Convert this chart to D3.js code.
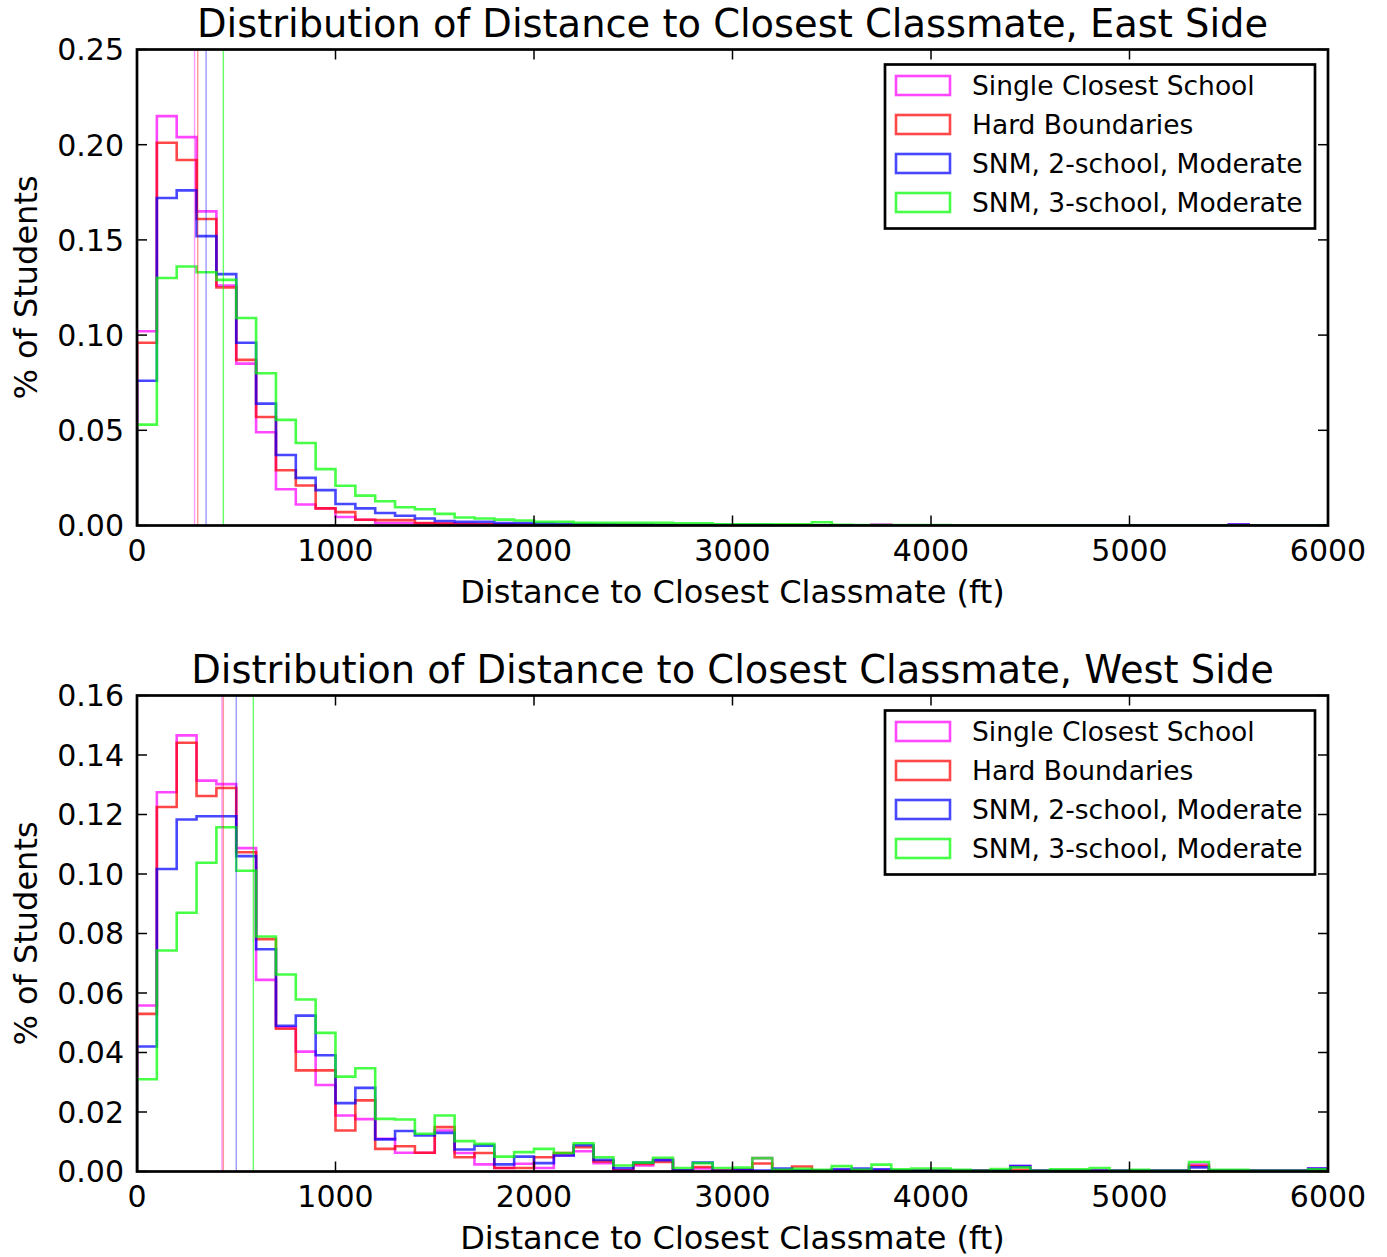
<!DOCTYPE html>
<html>
<head>
<meta charset="utf-8">
<script src="https://cdn.jsdelivr.net/npm/d3@7"></script>
<style>
  body { margin: 0; background: #fff; }
  svg { display: block; font-family: "DejaVu Sans", sans-serif; }
</style>
</head>
<body>
<svg id="chart"></svg>
<script>
// histogram bins are 100 ft wide, from 0 to 6000 ft
const binWidth = 100
const seriesNames = ["Single Closest School", "Hard Boundaries", "SNM, 2-school, Moderate", "SNM, 3-school, Moderate"]
const seriesColors = ["#ff00ff", "#ff0000", "#0000ff", "#00ff00"]

// East side, share of students per bin
const eastSingle = [0.102, 0.215, 0.204, 0.165, 0.126, 0.085, 0.049, 0.019, 0.011, 0.009,
  0.0045, 0.003, 0.0013, 0.0013, 0.0012, 0.0010, 0.0008, 0.0006, 0.0005, 0.0004,
  0.0003, 0.0002, 0.0002, 0.0002, 0.0002, 0.0002, 0.0001, 0.0001, 0.0001, 0.0001,
  0.0001, 0.0001, 0.0001, 0.0001, 0.0001, 0.0001, 0.0001, 0.0005, 0.0001, 0,
  0, 0, 0, 0, 0, 0, 0, 0, 0, 0,
  0, 0, 0, 0, 0, 0.0005, 0, 0, 0, 0]
const eastHard = [0.096, 0.201, 0.192, 0.161, 0.125, 0.087, 0.057, 0.029, 0.021, 0.009,
  0.007, 0.003, 0.0028, 0.0028, 0.0013, 0.0010, 0.0008, 0.0006, 0.0005, 0.0004,
  0.0003, 0.0002, 0.0002, 0.0002, 0.0002, 0.0001, 0.0001, 0.0001, 0.0001, 0.0001,
  0.0001, 0.0001, 0.0001, 0.0001, 0.0001, 0, 0, 0, 0, 0,
  0, 0, 0, 0, 0, 0, 0, 0, 0, 0,
  0, 0, 0, 0, 0, 0, 0, 0, 0, 0]
const eastSnm2 = [0.076, 0.172, 0.176, 0.152, 0.132, 0.096, 0.064, 0.037, 0.025, 0.0186,
  0.0113, 0.009, 0.0066, 0.0051, 0.0037, 0.0024, 0.0019, 0.0019, 0.0013, 0.0013,
  0.0010, 0.0008, 0.0006, 0.0005, 0.0004, 0.0004, 0.0003, 0.0003, 0.0002, 0.0002,
  0.0002, 0.0002, 0.0001, 0.0001, 0.0001, 0.0001, 0.0001, 0.0001, 0, 0,
  0, 0, 0, 0, 0, 0, 0, 0, 0, 0,
  0, 0, 0, 0, 0, 0.0005, 0, 0, 0, 0]
const eastSnm3 = [0.053, 0.130, 0.136, 0.133, 0.129, 0.109, 0.080, 0.0555, 0.0433, 0.0296,
  0.0209, 0.0157, 0.0127, 0.0096, 0.0085, 0.0061, 0.0042, 0.0037, 0.0031, 0.0026,
  0.0019, 0.0019, 0.0014, 0.0014, 0.0014, 0.0014, 0.0014, 0.0012, 0.0012, 0.0006,
  0.0006, 0.0006, 0.0006, 0.0006, 0.0017, 0.0004, 0.0003, 0.0003, 0.0002, 0.0002,
  0.0002, 0.0001, 0.0001, 0.0001, 0.0001, 0.0001, 0, 0, 0, 0,
  0, 0, 0, 0, 0, 0, 0, 0, 0, 0]

// West side
const westSingle = [0.0558, 0.1275, 0.1466, 0.1314, 0.1302, 0.1087, 0.0644, 0.0485, 0.0403, 0.0291,
  0.0188, 0.0176, 0.011, 0.0063, 0.0063, 0.0138, 0.0062, 0.0024, 0.0012, 0.0026,
  0.0012, 0.0054, 0.0068, 0.0028, 0.0004, 0.002, 0.004, 0.0004, 0.001, 0.0004,
  0.0006, 0.0045, 0.0004, 0.0004, 0.0003, 0.0003, 0.0003, 0.0003, 0.0003, 0.0003,
  0.0003, 0.0003, 0.0003, 0.0003, 0.0018, 0.0003, 0.0003, 0.0003, 0.0003, 0.0003,
  0.0003, 0.0003, 0.0003, 0.0023, 0.0003, 0.0003, 0.0003, 0.0003, 0.0003, 0.001]
const westHard = [0.053, 0.1225, 0.1441, 0.1262, 0.1289, 0.1073, 0.0781, 0.048, 0.034, 0.034,
  0.0138, 0.0239, 0.0076, 0.0085, 0.0063, 0.0149, 0.0048, 0.0062, 0.0012, 0.0012,
  0.0048, 0.0062, 0.0082, 0.0034, 0.0004, 0.0025, 0.0032, 0.0004, 0.0015, 0.0003,
  0.0005, 0.0027, 0.0003, 0.0017, 0.0003, 0.0003, 0.0003, 0.0003, 0.0003, 0.0003,
  0.0003, 0.0003, 0.0003, 0.0003, 0.0006, 0.0002, 0.0002, 0.0002, 0.0002, 0.0002,
  0.0002, 0.0002, 0.0002, 0.0018, 0.0002, 0.0002, 0.0002, 0.0002, 0.0002, 0.0002]
const westSnm2 = [0.042, 0.1017, 0.1183, 0.1194, 0.1194, 0.106, 0.0747, 0.049, 0.0524, 0.0391,
  0.023, 0.0281, 0.0108, 0.0136, 0.0121, 0.013, 0.0074, 0.0087, 0.0024, 0.005,
  0.0028, 0.0054, 0.0088, 0.0039, 0.0011, 0.003, 0.0038, 0.0004, 0.003, 0.0002,
  0.0006, 0.0003, 0.001, 0.0003, 0.0003, 0.0007, 0.001, 0.0007, 0.0003, 0.0003,
  0.0003, 0.0003, 0.0003, 0.0003, 0.0018, 0.0003, 0.0003, 0.0003, 0.0003, 0.0003,
  0.0003, 0.0003, 0.0003, 0.0014, 0.0003, 0.0003, 0.0003, 0.0003, 0.0003, 0.001]
const westSnm3 = [0.031, 0.0743, 0.087, 0.1038, 0.1157, 0.1011, 0.079, 0.0662, 0.0578, 0.0466,
  0.0319, 0.0347, 0.0177, 0.0175, 0.0127, 0.0188, 0.0102, 0.0093, 0.005, 0.0065,
  0.0076, 0.0062, 0.0095, 0.0048, 0.002, 0.003, 0.0046, 0.0012, 0.0028, 0.0012,
  0.0013, 0.0045, 0.0006, 0.0009, 0.0006, 0.0018, 0.0006, 0.0023, 0.0007, 0.001,
  0.001, 0.0006, 0.0002, 0.0008, 0.0014, 0.0002, 0.0007, 0.0007, 0.0012, 0.0002,
  0.0006, 0.0002, 0.0002, 0.0032, 0.0006, 0.0006, 0.0002, 0.0002, 0.0002, 0.0007]

// mean distance per series (vertical markers)
const eastMeans = [290, 306, 348, 435]
const westMeans = [428, 435, 500, 586]

const xTicks = [0, 1000, 2000, 3000, 4000, 5000, 6000]
const eastYTicks = [0, 0.05, 0.10, 0.15, 0.20, 0.25]
const westYTicks = [0, 0.02, 0.04, 0.06, 0.08, 0.10, 0.12, 0.14, 0.16]

const width = 1387, height = 1257
const svg = d3.select("#chart").attr("width", width).attr("height", height)

const left = 137, right = 1328, plotH = 476

function drawPanel(top, title, series, means, yMax, yTicks, id) {
  const x = d3.scaleLinear().domain([0, 6000]).range([left, right])
  const y = d3.scaleLinear().domain([0, yMax]).range([top + plotH, top])
  const g = svg.append("g")

  g.append("clipPath").attr("id", id)
    .append("rect").attr("x", left).attr("y", top).attr("width", right - left).attr("height", plotH)

  const plot = g.append("g").attr("clip-path", "url(#" + id + ")")

  // step outline like a matplotlib 'step' histogram
  function stepPath(vals) {
    const p = d3.path()
    p.moveTo(x(0), y(0))
    vals.forEach(function (v, i) {
      p.lineTo(x(i * binWidth), y(v))
      p.lineTo(x((i + 1) * binWidth), y(v))
    })
    p.lineTo(x(vals.length * binWidth), y(0))
    return p.toString()
  }

  series.forEach(function (vals, i) {
    plot.append("path")
      .attr("d", stepPath(vals))
      .attr("fill", "none")
      .attr("stroke", seriesColors[i])
      .attr("stroke-opacity", 0.72)
      .attr("stroke-width", 2.6)
      .attr("stroke-linejoin", "miter")
  })

  plot.selectAll("line.mean")
    .data(means)
    .enter().append("line")
      .attr("x1", d => x(d)).attr("x2", d => x(d))
      .attr("y1", top).attr("y2", top + plotH)
      .attr("stroke", (d, i) => seriesColors[i])
      .attr("stroke-opacity", (d, i) => i == 3 ? 0.6 : 0.4)
      .attr("stroke-width", 1.4)

  // ticks, inward on all four sides
  const tl = 10
  xTicks.forEach(function (t) {
    g.append("line").attr("x1", x(t)).attr("x2", x(t)).attr("y1", top + plotH).attr("y2", top + plotH - tl)
      .attr("stroke", "#000").attr("stroke-width", 1.5)
    g.append("line").attr("x1", x(t)).attr("x2", x(t)).attr("y1", top).attr("y2", top + tl)
      .attr("stroke", "#000").attr("stroke-width", 1.5)
    g.append("text").attr("x", x(t)).attr("y", top + plotH + 35)
      .attr("text-anchor", "middle").style("font-size", "30px").text(t)
  })
  yTicks.forEach(function (t) {
    g.append("line").attr("x1", left).attr("x2", left + tl).attr("y1", y(t)).attr("y2", y(t))
      .attr("stroke", "#000").attr("stroke-width", 1.5)
    g.append("line").attr("x1", right).attr("x2", right - tl).attr("y1", y(t)).attr("y2", y(t))
      .attr("stroke", "#000").attr("stroke-width", 1.5)
    g.append("text").attr("x", 124).attr("y", y(t) + 10.8)
      .attr("text-anchor", "end").style("font-size", "30px").text(d3.format(".2f")(t))
  })

  g.append("rect").attr("x", left).attr("y", top).attr("width", right - left).attr("height", plotH)
    .attr("fill", "none").attr("stroke", "#000").attr("stroke-width", 2.7)

  g.append("text").attr("x", (left + right) / 2).attr("y", top - 13)
    .attr("text-anchor", "middle").style("font-size", "38.4px").text(title)

  g.append("text").attr("x", (left + right) / 2).attr("y", top + plotH + 77)
    .attr("text-anchor", "middle").style("font-size", "32px").text("Distance to Closest Classmate (ft)")

  g.append("text")
    .attr("transform", "translate(37," + (top + plotH / 2) + ") rotate(-90)")
    .attr("text-anchor", "middle").style("font-size", "32px").text("% of Students")

  // legend
  const lg = g.append("g")
  lg.append("rect").attr("x", 885).attr("y", top + 15).attr("width", 430).attr("height", 164)
    .attr("fill", "#fff").attr("stroke", "#000").attr("stroke-width", 2.7)
  seriesNames.forEach(function (name, i) {
    const cy = top + 36 + i * 39
    lg.append("rect").attr("x", 896).attr("y", cy - 9.5).attr("width", 54).attr("height", 19)
      .attr("fill", "#fff").attr("stroke", seriesColors[i]).attr("stroke-opacity", 0.72).attr("stroke-width", 2.6)
    lg.append("text").attr("x", 972).attr("y", cy + 9.5)
      .style("font-size", "26.5px").text(name)
  })
}

drawPanel(49.5, "Distribution of Distance to Closest Classmate, East Side",
  [eastSingle, eastHard, eastSnm2, eastSnm3], eastMeans, 0.25, eastYTicks, "clipEast")
drawPanel(695.5, "Distribution of Distance to Closest Classmate, West Side",
  [westSingle, westHard, westSnm2, westSnm3], westMeans, 0.16, westYTicks, "clipWest")
</script>
</body>
</html>
